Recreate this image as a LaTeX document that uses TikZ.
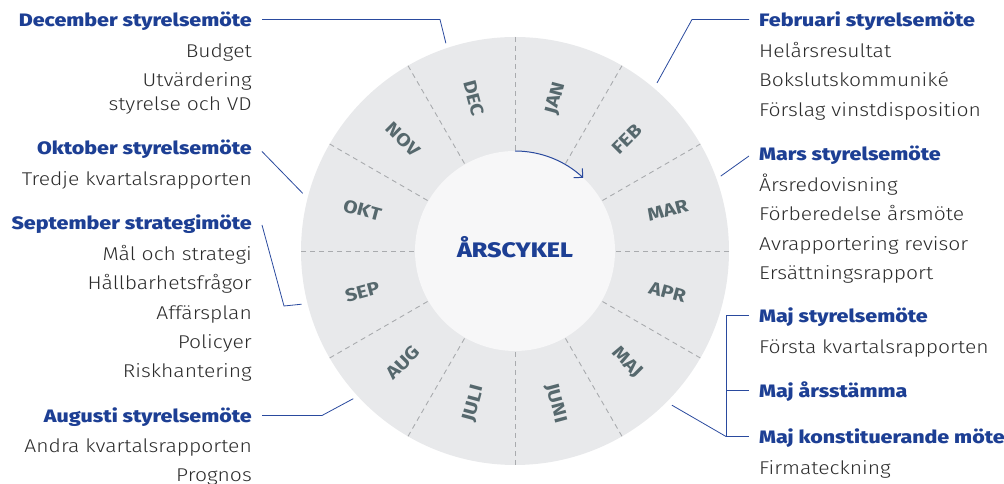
\documentclass[tikz,border=0pt]{standalone}
\usepackage{fontspec}
\setmainfont{Fira Sans Light}[FakeStretch=1.14]
\newfontfamily\headfont{Fira Sans ExtraBold}[FakeStretch=1.19]
\newfontfamily\monthfont{Fira Sans Bold}[FakeStretch=1.15]
\usepackage{tikz}
\usetikzlibrary{arrows.meta,positioning,calc}
\definecolor{ringgray}{HTML}{E8E9EB}
\definecolor{centergray}{HTML}{F7F7F8}
\definecolor{dashgray}{HTML}{A9ABAE}
\definecolor{monthcol}{HTML}{56686D}
\definecolor{headblue}{HTML}{1D3F94}
\definecolor{bodycol}{HTML}{2B2B2B}
\definecolor{leadblue}{HTML}{2A4A9E}

\begin{document}
\begin{tikzpicture}[x=1pt,y=1pt]
\tikzstyle{head}=[font=\headfont\fontsize{18}{18}\selectfont, text=headblue, inner sep=0pt, text height=19pt, text depth=4pt]
\tikzstyle{item}=[font=\fontsize{18.5}{18.5}\selectfont, text=bodycol, inner sep=0pt, text height=15pt, text depth=4pt]
\tikzstyle{month}=[font=\monthfont\fontsize{18}{18}\selectfont, text=monthcol, inner sep=0pt]
\tikzstyle{leader}=[draw=leadblue, line width=0.8pt]
\tikzstyle{sector}=[draw=dashgray, line width=0.9pt, dash pattern=on 5pt off 4pt]
\useasboundingbox (0,0) rectangle (1004,484);

% ring
\coordinate (c) at (515,233);
\fill[ringgray] (c) circle (214);
\draw[sector] ($(c)+(0:214)$) -- ($(c)+(180:214)$); %
\draw[sector] ($(c)+(30:214)$) -- ($(c)+(210:214)$); %
\draw[sector] ($(c)+(60:214)$) -- ($(c)+(240:214)$); %
\draw[sector] ($(c)+(90:214)$) -- ($(c)+(270:214)$); %
\draw[sector] ($(c)+(120:214)$) -- ($(c)+(300:214)$); %
\draw[sector] ($(c)+(150:214)$) -- ($(c)+(330:214)$); %
\fill[centergray] (c) circle (100);
\node[font=\headfont\fontsize{21}{21}\selectfont, text=headblue, inner sep=0pt, anchor=base] (title) at (515,226) {ÅRSCYKEL};
\draw[leadblue, line width=1pt, -{Straight Barb[angle=90:9pt]}] ($(c)+(90:100)$) arc[start angle=90, end angle=47, radius=100];

% months
\node[month, rotate=75] (mjan) at ($(c)+(75:158)$) {JAN};
\node[month, rotate=45] (mfeb) at ($(c)+(45:158)$) {FEB};
\node[month, rotate=15] (mmar) at ($(c)+(15:158)$) {MAR};
\node[month, rotate=-15] (mapr) at ($(c)+(-15:158)$) {APR};
\node[month, rotate=-45] (mmaj) at ($(c)+(-45:158)$) {MAJ};
\node[month, rotate=-75] (mjun) at ($(c)+(-75:158)$) {JUNI};
\node[month, rotate=75] (mjul) at ($(c)+(-105:158)$) {JULI};
\node[month, rotate=45] (maug) at ($(c)+(-135:158)$) {AUG};
\node[month, rotate=15] (msep) at ($(c)+(195:158)$) {SEP};
\node[month, rotate=-15] (mokt) at ($(c)+(165:158)$) {OKT};
\node[month, rotate=-45] (mnov) at ($(c)+(135:158)$) {NOV};
\node[month, rotate=-75] (mdec) at ($(c)+(105:158)$) {DEC};

% right side
\node[head, anchor=base west] (feb) at (759,457) {Februari styrelsemöte};
\node[item, below=11pt of feb.south west, anchor=north west] (feb1) {Helårsresultat};
\node[item, below=10pt of feb1.south west, anchor=north west] (feb2) {Bokslutskommuniké};
\node[item, below=10pt of feb2.south west, anchor=north west] (feb3) {Förslag vinstdisposition};

\node[head, anchor=base west] (mar) at (759,323) {Mars styrelsemöte};
\node[item, below=11pt of mar.south west, anchor=north west] (mar1) {Årsredovisning};
\node[item, below=10pt of mar1.south west, anchor=north west] (mar2) {Förberedelse årsmöte};
\node[item, below=10pt of mar2.south west, anchor=north west] (mar3) {Avrapportering revisor};
\node[item, below=10pt of mar3.south west, anchor=north west] (mar4) {Ersättningsrapport};

\node[head, anchor=base west] (majs) at (759,161) {Maj styrelsemöte};
\node[item, below=11pt of majs.south west, anchor=north west] (majs1) {Första kvartalsrapporten};
\node[head, anchor=base west] (majst) at (759,86) {Maj årsstämma};
\node[head, anchor=base west] (majk) at (759,40) {Maj konstituerande möte};
\node[item, below=11pt of majk.south west, anchor=north west] (majk1) {Firmateckning};

% left side
\node[head, anchor=base east] (dec) at (252,457) {December styrelsemöte};
\node[item, below=11pt of dec.south east, anchor=north east] (dec1) {Budget};
\node[item, below=10pt of dec1.south east, anchor=north east] (dec2) {Utvärdering};
\node[item, below=4pt of dec2.south east, anchor=north east] (dec3) {styrelse och VD};

\node[head, anchor=base east] (okt) at (252,329) {Oktober styrelsemöte};
\node[item, below=11pt of okt.south east, anchor=north east] (okt1) {Tredje kvartalsrapporten};

\node[head, anchor=base east] (sep) at (252,254) {September strategimöte};
\node[item, below=11pt of sep.south east, anchor=north east] (sep1) {Mål och strategi};
\node[item, below=10pt of sep1.south east, anchor=north east] (sep2) {Hållbarhetsfrågor};
\node[item, below=10pt of sep2.south east, anchor=north east] (sep3) {Affärsplan};
\node[item, below=10pt of sep3.south east, anchor=north east] (sep4) {Policyer};
\node[item, below=10pt of sep4.south east, anchor=north east] (sep5) {Riskhantering};

\node[head, anchor=base east] (aug) at (252,61) {Augusti styrelsemöte};
\node[item, below=10pt of aug.south east, anchor=north east] (aug1) {Andra kvartalsrapporten};
\node[item, below=9.5pt of aug1.south east, anchor=north east] (aug2) {Prognos};

% leaders
\coordinate (decend) at ($(c)+(108.4:219)$);
\coordinate (oktend) at ($(c)+(164.8:220)$);
\coordinate (sepend) at ($(c)+(194:220)$);
\coordinate (augend) at ($(c)+(222.4:219)$);
\coordinate (febend) at ($(c)+(49.8:220)$);
\coordinate (marend) at ($(c)+(20:219)$);
\coordinate (majend) at ($(c)+(-44.5:220)$);
\draw[leader] ([xshift=10pt]dec.east) -- ++(178,0) -- (decend); %
\draw[leader] ([xshift=10pt,yshift=-4pt]okt.east) -- (oktend); %
\draw[leader] ([xshift=10pt,yshift=-2.5pt]sep.east) -- ++(22,-81) -- (sepend); %
\draw[leader] ([xshift=10pt]aug.east) -- ++(60,0) -- (augend); %
\draw[leader] ([xshift=-10pt]feb.west) -- ++(-57,0) -- (febend); %
\draw[leader] ([xshift=-10pt,yshift=-2.5pt]mar.west) -- (marend); %
\draw[leader] ([xshift=-10pt]majs.west) -- ++(-23,0) |- ([xshift=-10pt]majk.west); %
\draw[leader] ([xshift=-10pt]majst.west) -- ++(-23,0); %
\draw[leader] ([xshift=-33pt]majk.west) -- (majend); %
\end{tikzpicture}
\end{document}
